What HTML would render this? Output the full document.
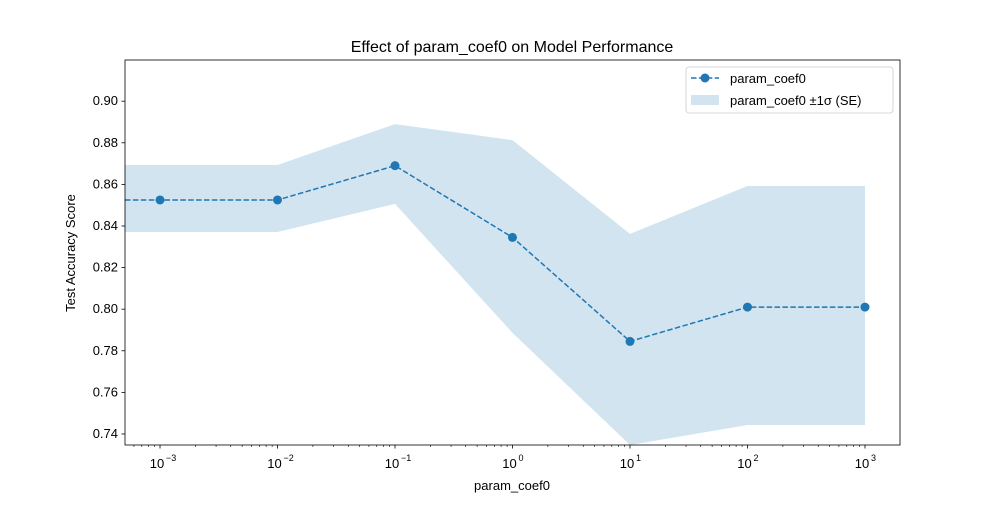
<!DOCTYPE html>
<html><head><meta charset="utf-8"><style>
body{margin:0;background:#fff}
svg text{font-family:"Liberation Sans","DejaVu Sans",sans-serif;fill:#000}
</style></head><body>
<svg id="chart" width="1000" height="500" xmlns="http://www.w3.org/2000/svg">
<rect width="1000" height="500" fill="#fff"/>
<g id="plot"></g>
</svg>
<script>
const exponents=[-3,-2,-1,0,1,2,3];
const means=[0.8525,0.8525,0.869,0.8345,0.7845,0.801,0.801];
const upper=[0.8693,0.8693,0.889,0.8813,0.8362,0.8592,0.8592];
const lower=[0.8371,0.8371,0.8506,0.7886,0.7347,0.7443,0.7443];
const yTicks=[0.74,0.76,0.78,0.80,0.82,0.84,0.86,0.88,0.90];
const L=125,R=900,T=60,B=445;
const xmin=-3.298,xmax=3.298,ymin=0.7347,ymax=0.9198;
const X=e=>L+(e-xmin)/(xmax-xmin)*(R-L);
const Y=v=>B-(v-ymin)/(ymax-ymin)*(B-T);
const NS="http://www.w3.org/2000/svg";
const g=document.getElementById('plot');
function mk(t,a,p){const e=document.createElementNS(NS,t);for(const k in a)e.setAttribute(k,a[k]);(p||g).appendChild(e);return e;}
let pts=[[L,upper[0]]];
exponents.forEach((e,i)=>pts.push([X(e),upper[i]]));
let lowPts=[];
exponents.forEach((e,i)=>lowPts.push([X(e),lower[i]]));
lowPts.reverse();lowPts.push([L,lower[0]]);
let d=pts.concat(lowPts).map(p=>p[0].toFixed(1)+','+Y(p[1]).toFixed(1)).join(' ');
const band=mk('polygon',{points:d,fill:'#1f77b4','fill-opacity':0.2});


let lp=[[L,means[0]]];exponents.forEach((e,i)=>lp.push([X(e),means[i]]));
const line=mk('polyline',{points:lp.map(p=>p[0].toFixed(1)+','+Y(p[1]).toFixed(1)).join(' '),fill:'none',stroke:'#1f77b4','stroke-width':1.5,'stroke-dasharray':'5.5,2.4'});


exponents.forEach((e,i)=>{const c=mk('circle',{cx:X(e),cy:Y(means[i]),r:4.5,fill:'#1f77b4'});

});
const fr=mk('rect',{x:L,y:T,width:R-L,height:B-T,fill:'none',stroke:'#000','stroke-width':0.8});


yTicks.forEach(v=>{const y=Y(v);mk('line',{x1:L-3.5,x2:L,y1:y,y2:y,stroke:'#000','stroke-width':0.8});
const t=mk('text',{x:L-7,y:y+4,'text-anchor':'end','font-size':13});t.textContent=v.toFixed(2);

});
exponents.forEach(e=>{const x=X(e);mk('line',{x1:x,x2:x,y1:B,y2:B+3.5,stroke:'#000','stroke-width':0.8});
const t=mk('text',{x:x-3,y:B+23,'text-anchor':'middle','font-size':13});t.textContent='10';


const s=mk('text',{x:x+6,y:B+16,'text-anchor':'start','font-size':9});s.textContent=(e<0?'\u2212':'')+Math.abs(e);});
for(let e=-4;e<=3;e++)for(let k=2;k<=9;k++){const lv=e+Math.log10(k);if(lv<xmin||lv>xmax)continue;const x=X(lv);mk('line',{x1:x,x2:x,y1:B,y2:B+2,stroke:'#000','stroke-width':0.6});}
let t=mk('text',{x:512,y:52,'text-anchor':'middle','font-size':16});t.textContent='Effect of param_coef0 on Model Performance';


t=mk('text',{x:512,y:490,'text-anchor':'middle','font-size':13});t.textContent='param_coef0';


t=mk('text',{x:75,y:253,'text-anchor':'middle','font-size':13,transform:'rotate(-90 75 253)'});t.textContent='Test Accuracy Score';


const lg=mk('g',{});


mk('rect',{x:686,y:67,width:207,height:46,rx:3,fill:'#fff',stroke:'#ccc','stroke-width':0.8},lg);
mk('line',{x1:691,x2:719,y1:78,y2:78,stroke:'#1f77b4','stroke-width':1.5,'stroke-dasharray':'5.5,2.4'},lg);
mk('circle',{cx:705,cy:78,r:4.5,fill:'#1f77b4'},lg);
t=mk('text',{x:730,y:83,'font-size':13},lg);t.textContent='param_coef0';
mk('rect',{x:691,y:95,width:28,height:10,fill:'#1f77b4','fill-opacity':0.2},lg);
t=mk('text',{x:730,y:105,'font-size':13},lg);t.textContent='param_coef0 \u00b11\u03c3 (SE)';
</script>
</body></html>
